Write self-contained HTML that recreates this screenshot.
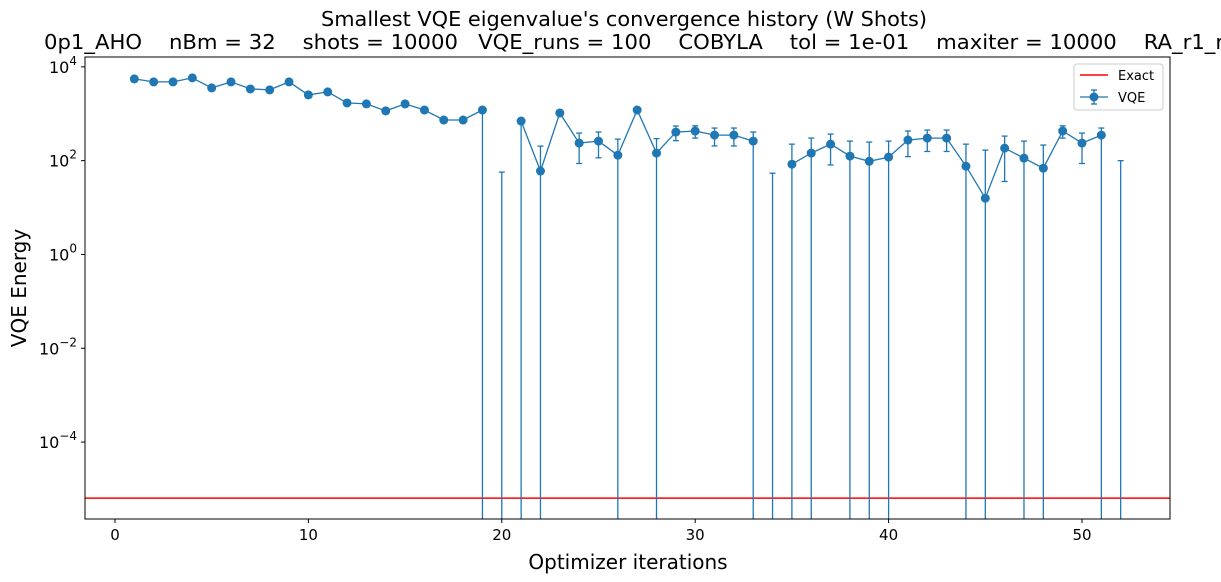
<!DOCTYPE html>
<html><head><meta charset="utf-8"><style>
body{margin:0;background:#fff;overflow:hidden;}
svg{display:block;font-family:"DejaVu Sans","Liberation Sans",sans-serif;}
</style></head><body>
<svg id="chart" width="1221" height="582" viewBox="0 0 1221 582" xmlns="http://www.w3.org/2000/svg">
<text x="624" y="26" text-anchor="middle" font-size="20" textLength="606" lengthAdjust="spacingAndGlyphs">Smallest VQE eigenvalue's convergence history (W Shots)</text>
<text x="44" y="49" font-size="20" xml:space="preserve" textLength="1186" lengthAdjust="spacingAndGlyphs">0p1_AHO    nBm = 32    shots = 10000   VQE_runs = 100    COBYLA    tol = 1e-01    maxiter = 10000    RA_r1_rl</text>
<g id="plot"></g>
<text x="628" y="569" text-anchor="middle" font-size="20">Optimizer iterations</text>
<text transform="translate(26,288) rotate(-90)" text-anchor="middle" font-size="20">VQE Energy</text>
</svg>
<script>
const iterations = [1,2,3,4,5,6,7,8,9,10,11,12,13,14,15,16,17,18,19,20,21,22,23,24,25,26,27,28,29,30,31,32,33,34,35,36,37,38,39,40,41,42,43,44,45,46,47,48,49,50,51,52];
const energies = [5530,4770,4770,5820,3560,4770,3380,3220,4770,2520,2920,1700,1620,1150,1620,1200,735,735,1200,-100,700,60,1040,237,261,131,1200,145,407,428,351,351,261,-100,84,145,225,125,97,119,275,303,303,76,15.8,185,113,69,428,237,351,-100];
const errHigh = [0,0,0,0,0,0,0,0,0,0,0,0,0,0,0,0,80,80,0,157,0,144,0,150,146,157,0,150,140,125,145,145,146,154,141,158,144,136,152,142,153,146,146,149,152,149,148,146,125,150,145,200];
const errLow = [0,0,0,0,0,0,0,0,0,0,0,0,0,0,0,0,80,80,5000,0,5000,5000,0,150,146,5000,0,5000,140,125,145,145,5000,0,5000,5000,144,5000,5000,5000,153,146,146,5000,5000,149,5000,5000,125,150,5000,0];
const exactValue = 6.4e-6;
const xTicks = [0,10,20,30,40,50];
const yTickExps = [-4,-2,0,2,4];

const NS = "http://www.w3.org/2000/svg";
const L = 85, R = 1170, T = 57, B = 519;
const xMin = -1.55, xMax = 54.55, yMinLog = -5.64, yMaxLog = 4.21;
function xs(v){ return L + (v - xMin) / (xMax - xMin) * (R - L); }
function ys(v){ if (v <= 0) return B + 5; const lg = Math.log10(v); return B - (lg - yMinLog) / (yMaxLog - yMinLog) * (B - T); }
const g = document.getElementById('plot');
function mk(tag, attrs, parent){ const e = document.createElementNS(NS, tag); for (const k in attrs) e.setAttribute(k, attrs[k]); (parent || g).appendChild(e); return e; }

const clip = mk('clipPath', {id: 'pc'});
mk('rect', {x: L, y: T, width: R - L, height: B - T}, clip);
const data = mk('g', {'clip-path': 'url(#pc)'});



const ex = mk('line', {x1: L, x2: R, y1: ys(exactValue), y2: ys(exactValue), stroke: '#ff0000', 'stroke-width': 1.5}, data);



const C = '#1f77b4';
iterations.forEach((it, i) => {
  const v = energies[i], hi = v + errHigh[i], lo = v - errLow[i];
  if (errHigh[i] === 0 && errLow[i] === 0) return;
  const x = xs(it);
  const y1 = ys(hi), y2 = ys(lo);
  const eb = mk('line', {x1: x, x2: x, y1: y1, y2: y2, stroke: C, 'stroke-width': 1.3}, data);
  
  
  if (hi > 0 && errHigh[i] > 0) mk('line', {x1: x - 3, x2: x + 3, y1: y1, y2: y1, stroke: C, 'stroke-width': 1.3}, data);
  if (lo > 0) mk('line', {x1: x - 3, x2: x + 3, y1: y2, y2: y2, stroke: C, 'stroke-width': 1.3}, data);
});
let d = '', pen = false;
iterations.forEach((it, i) => {
  const v = energies[i];
  if (v > 0) { d += (pen ? 'L' : 'M') + xs(it).toFixed(1) + ',' + ys(v).toFixed(1); pen = true; } else pen = false;
});
const ln = mk('path', {d: d, fill: 'none', stroke: C, 'stroke-width': 1.3}, data);


iterations.forEach((it, i) => {
  if (energies[i] <= 0) return;
  const c = mk('circle', {cx: xs(it), cy: ys(energies[i]), r: 4.5, fill: C}, data);
  
  
});

const fr = mk('rect', {x: L, y: T, width: R - L, height: B - T, fill: 'none', stroke: '#000', 'stroke-width': 1});


xTicks.forEach(t => {
  const x = xs(t);
  mk('line', {x1: x, x2: x, y1: B, y2: B + 4, stroke: '#000'});
  const tx = mk('text', {x: x, y: B + 21, 'text-anchor': 'middle', 'font-size': 15});
  tx.textContent = t;
  
  
});
yTickExps.forEach(e => {
  const y = ys(Math.pow(10, e));
  mk('line', {x1: L - 4, x2: L, y1: y, y2: y, stroke: '#000'});
  const tx = mk('text', {x: L - 8, y: y + 6, 'text-anchor': 'end', 'font-size': 16});
  tx.textContent = '10';
  const sp = mk('tspan', {dy: -8, 'font-size': 12}, tx);
  sp.textContent = e < 0 ? '\u2212' + (-e) : String(e);
  
  
});

const lg = mk('g', {});


mk('rect', {x: 1074, y: 64, width: 89, height: 46, rx: 3, fill: '#fff', stroke: '#ccc'}, lg);
mk('line', {x1: 1080, x2: 1108, y1: 75, y2: 75, stroke: '#ff0000', 'stroke-width': 1.5}, lg);
const t1 = mk('text', {x: 1118, y: 80, 'font-size': 13}, lg); t1.textContent = 'Exact';


mk('line', {x1: 1080, x2: 1108, y1: 97, y2: 97, stroke: C, 'stroke-width': 1.3}, lg);
mk('line', {x1: 1094, x2: 1094, y1: 90, y2: 104, stroke: C, 'stroke-width': 1.3}, lg);
mk('line', {x1: 1091, x2: 1097, y1: 90, y2: 90, stroke: C, 'stroke-width': 1.3}, lg);
mk('line', {x1: 1091, x2: 1097, y1: 104, y2: 104, stroke: C, 'stroke-width': 1.3}, lg);
mk('circle', {cx: 1094, cy: 97, r: 4.5, fill: C}, lg);
const t2 = mk('text', {x: 1118, y: 102, 'font-size': 13}, lg); t2.textContent = 'VQE';


</script>
</body></html>
